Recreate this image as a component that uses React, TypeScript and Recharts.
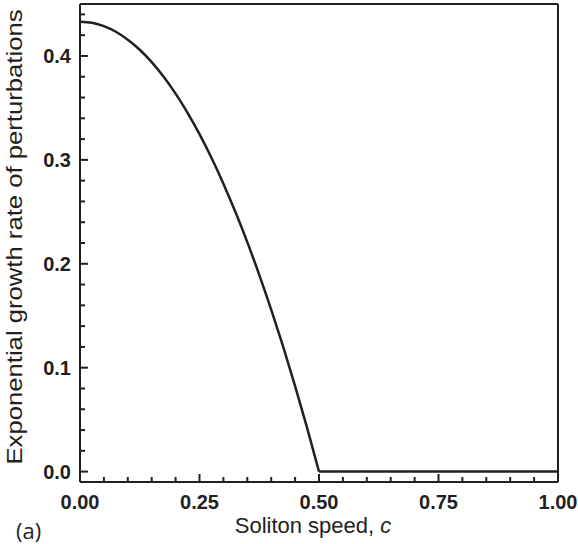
import React from 'react';
import { LineChart, Line, XAxis, YAxis } from 'recharts';

// growth rate; it drops to zero at c = 0.5 and stays there
const speeds = [0, 0.025, 0.05, 0.075, 0.1, 0.125, 0.15, 0.175, 0.2, 0.225, 0.25, 0.275, 0.3, 0.325, 0.35, 0.375, 0.4, 0.425, 0.45, 0.475, 0.5];
const growthRates = [0.433, 0.4319, 0.4287, 0.4233, 0.4157, 0.406, 0.3941, 0.38, 0.3637, 0.3453, 0.3248, 0.302, 0.2771, 0.25, 0.2208, 0.1894, 0.1559, 0.1202, 0.0823, 0.0423, 0];
const flatSpeeds = [0.5, 0.75, 1];
const flatRates = [0, 0, 0];

const xTicks = [0, 0.05, 0.1, 0.15, 0.2, 0.25, 0.3, 0.35, 0.4, 0.45, 0.5, 0.55, 0.6, 0.65, 0.7, 0.75, 0.8, 0.85, 0.9, 0.95, 1];
const xMajor = [0, 0.25, 0.5, 0.75, 1];
const yTicks = [0, 0.02, 0.04, 0.06, 0.08, 0.1, 0.12, 0.14, 0.16, 0.18, 0.2, 0.22, 0.24, 0.26, 0.28, 0.3, 0.32, 0.34, 0.36, 0.38, 0.4, 0.42, 0.44];
const yMajor = [0, 0.1, 0.2, 0.3, 0.4];

const curveData = speeds.map((c, i) => ({ c, rate: growthRates[i] }));
const flatData = flatSpeeds.map((c, i) => ({ c, rate: flatRates[i] }));

const INK = '#231f20';
const MAJOR = 8;
const MINOR = 5;
const tickFont = { fontFamily: '"Liberation Sans", Arial, sans-serif', fontWeight: 'bold' as const, fontSize: 20, fill: INK };
const labelFont = { fontFamily: '"Liberation Sans", Arial, sans-serif', fontSize: 22, fill: INK };

const isMajor = (list: number[], v: number) => list.some((m) => Math.abs(m - v) < 1e-9);

const BottomTick = ({ x, y, payload }: any) => {
  const major = isMajor(xMajor, payload.value);
  return (
    <g>
      <line x1={x} y1={y} x2={x} y2={y - (major ? MAJOR : MINOR)} stroke={INK} strokeWidth={2} />
      {major && (
        <text x={x} y={y + 27} textAnchor="middle" {...tickFont}>
          {payload.value.toFixed(2)}
        </text>
      )}
    </g>
  );
};

const TopTick = ({ x, y, payload }: any) => {
  const major = isMajor(xMajor, payload.value);
  return <line x1={x} y1={y} x2={x} y2={y + (major ? MAJOR : MINOR)} stroke={INK} strokeWidth={2} />;
};

const LeftTick = ({ x, y, payload }: any) => {
  const major = isMajor(yMajor, payload.value);
  return (
    <g>
      <line x1={x} y1={y} x2={x + (major ? MAJOR : MINOR)} y2={y} stroke={INK} strokeWidth={2} />
      {major && (
        <text x={x - 9} y={y + 7} textAnchor="end" {...tickFont}>
          {payload.value.toFixed(1)}
        </text>
      )}
    </g>
  );
};

const RightTick = ({ x, y, payload }: any) => {
  const major = isMajor(yMajor, payload.value);
  return <line x1={x} y1={y} x2={x - (major ? MAJOR : MINOR)} y2={y} stroke={INK} strokeWidth={2} />;
};

const XLabel = ({ viewBox }: any) => {
  const cx = viewBox.x + viewBox.width / 2;
  return (
    <g>
      <text x={cx - 6} y={533} textAnchor="middle" {...labelFont}>
        Soliton speed, <tspan fontStyle="italic">c</tspan>
      </text>
      <text x={16} y={539} fontFamily='"Open Sans", "Noto Sans", sans-serif' fontSize={22} fill={INK}>
        (a)
      </text>
    </g>
  );
};

const YLabel = ({ viewBox }: any) => {
  const cy = viewBox.y + viewBox.height / 2 - 6;
  return (
    <text
      x={22}
      y={cy}
      transform={`rotate(-90, 22, ${cy})`}
      textAnchor="middle"
      textLength={455}
      lengthAdjust="spacingAndGlyphs"
      {...labelFont}
    >
      Exponential growth rate of perturbations
    </text>
  );
};

const App: React.FC = () => {
  return (
    <div style={{ position: 'absolute', left: 0, top: 0, width: 578, height: 544, background: '#fff' }}>
      <LineChart width={578} height={544} margin={{ top: 0, right: 0, bottom: 0, left: 0 }}>
        <XAxis
          dataKey="c"
          type="number"
          domain={[0, 1]}
          ticks={xTicks}
          interval={0}
          height={62}
          tickSize={0}
          tickMargin={0}
          tickLine={false}
          axisLine={{ stroke: INK, strokeWidth: 2 }}
          tick={<BottomTick />}
          label={{ content: XLabel }}
          allowDuplicatedCategory={false}
        />
        <XAxis
          xAxisId="top"
          orientation="top"
          dataKey="c"
          type="number"
          domain={[0, 1]}
          ticks={xTicks}
          interval={0}
          height={4}
          tickSize={0}
          tickMargin={0}
          tickLine={false}
          axisLine={{ stroke: INK, strokeWidth: 2 }}
          tick={<TopTick />}
        />
        <YAxis
          type="number"
          domain={[-0.01, 0.45]}
          ticks={yTicks}
          interval={0}
          width={80}
          tickSize={0}
          tickMargin={0}
          tickLine={false}
          axisLine={{ stroke: INK, strokeWidth: 2 }}
          tick={<LeftTick />}
          label={{ content: YLabel }}
        />
        <YAxis
          yAxisId="right"
          orientation="right"
          type="number"
          domain={[-0.01, 0.45]}
          ticks={yTicks}
          interval={0}
          width={20}
          tickSize={0}
          tickMargin={0}
          tickLine={false}
          axisLine={{ stroke: INK, strokeWidth: 2 }}
          tick={<RightTick />}
        />
        <Line
          data={curveData}
          type="monotone"
          dataKey="rate"
          stroke={INK}
          strokeWidth={2.5}
          dot={false}
          isAnimationActive={false}
        />
        <Line
          data={flatData}
          type="linear"
          dataKey="rate"
          stroke={INK}
          strokeWidth={2.5}
          dot={false}
          isAnimationActive={false}
        />
      </LineChart>
    </div>
  );
};

export default App;
